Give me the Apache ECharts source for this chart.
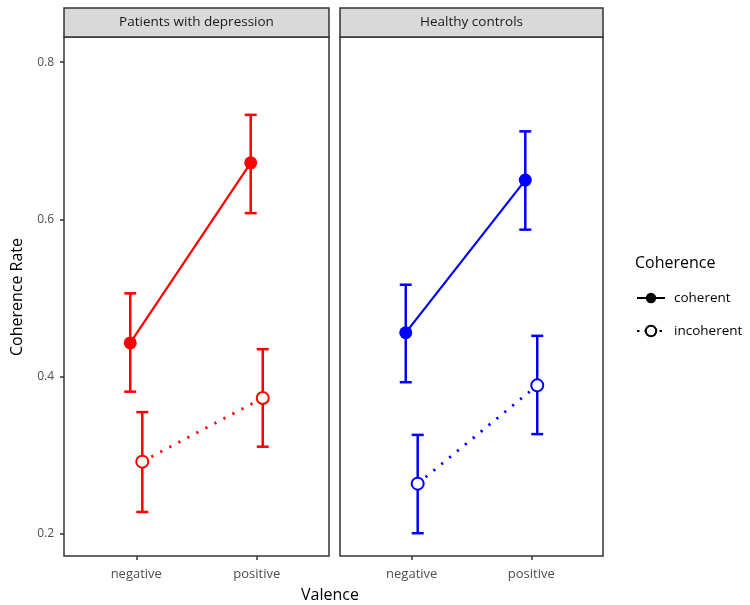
<!DOCTYPE html>
<html><head><meta charset="utf-8">
<script src="https://cdn.jsdelivr.net/npm/echarts@6/dist/echarts.min.js"></script>
<style>html,body{margin:0;padding:0;background:#fff}#c{width:750px;height:605px}</style>
</head><body><div id="c"></div>
<script>
var panels = ['Patients with depression', 'Healthy controls'];
var valence = ['negative', 'positive'];
var coherence = ['coherent', 'incoherent'];
var colors = ['#ff0000', '#0000ff'];
var yTicks = [0.2, 0.4, 0.6, 0.8];
// [panel][coherence][valence]
var means = [
  [[0.443, 0.672], [0.292, 0.373]],
  [[0.456, 0.650], [0.264, 0.389]]
];
var lower = [
  [[0.381, 0.608], [0.228, 0.311]],
  [[0.393, 0.587], [0.201, 0.327]]
];
var upper = [
  [[0.506, 0.733], [0.355, 0.435]],
  [[0.517, 0.712], [0.326, 0.452]]
];

var FONT = '"Open Sans"';
var dodge = [-0.05, 0.05];
var gridDefs = [{left: 64, top: 37, width: 265, height: 519}, {left: 340, top: 37, width: 263, height: 519}];

var grids = [], xAxes = [], yAxes = [], series = [], graphics = [];
gridDefs.forEach(function (g, p) {
  grids.push({left: g.left, top: g.top, width: g.width, height: g.height, show: true,
    borderColor: '#333333', borderWidth: 1.5, backgroundColor: '#fff', containLabel: false});
  xAxes.push({type: 'value', gridIndex: p, min: 0.4, max: 2.6,
    axisLine: {show: false}, splitLine: {show: false},
    axisTick: {show: true, customValues: [1, 2], length: 4, lineStyle: {color: '#333', width: 1.5}},
    axisLabel: {show: true, customValues: [1, 2], margin: 12, color: '#4d4d4d', fontFamily: FONT, fontSize: 13,
      formatter: function (v) { return valence[Math.round(v) - 1]; }}
  });
  yAxes.push({type: 'value', gridIndex: p, min: 0.172, max: 0.832,
    axisLine: {show: false}, splitLine: {show: false},
    axisTick: {show: p === 0, customValues: yTicks, length: 4, lineStyle: {color: '#333', width: 1.5}},
    axisLabel: {show: p === 0, customValues: yTicks, margin: 10, color: '#4d4d4d', fontFamily: FONT, fontSize: 12,
      formatter: function (v) { return v.toFixed(1); }}
  });
  // strip
  graphics.push({type: 'rect', shape: {x: g.left, y: 8, width: g.width, height: 29},
    style: {fill: '#d9d9d9', stroke: '#333333', lineWidth: 1.5}, z: 10});
  graphics.push({type: 'text', x: g.left + g.width / 2, y: 22.5,
    style: {text: panels[p], fill: '#1a1a1a', font: '13.5px ' + FONT, textAlign: 'center', textVerticalAlign: 'middle'}, z: 11});

  coherence.forEach(function (coh, c) {
    var pts = valence.map(function (v, i) { return [i + 1 + dodge[c], means[p][c][i]]; });
    var bars = valence.map(function (v, i) { return [i + 1 + dodge[c], lower[p][c][i], upper[p][c][i]]; });
    series.push({
      type: 'custom', xAxisIndex: p, yAxisIndex: p, z: 2, silent: true,
      data: bars,
      renderItem: (function (col) {
        return function (params, api) {
          var x = api.value(0);
          var lo = api.coord([x, api.value(1)]);
          var hi = api.coord([x, api.value(2)]);
          var hw = 6;
          var st = {stroke: col, lineWidth: 2.5, fill: null};
          return {type: 'group', children: [
            {type: 'line', shape: {x1: lo[0], y1: lo[1], x2: hi[0], y2: hi[1]}, style: st},
            {type: 'line', shape: {x1: lo[0] - hw, y1: lo[1], x2: lo[0] + hw, y2: lo[1]}, style: st},
            {type: 'line', shape: {x1: hi[0] - hw, y1: hi[1], x2: hi[0] + hw, y2: hi[1]}, style: st}
          ]};
        };
      })(colors[p])
    });
    series.push({
      type: 'line', xAxisIndex: p, yAxisIndex: p, z: 3, silent: true,
      data: pts,
      symbol: c === 0 ? 'circle' : 'emptyCircle',
      symbolSize: c === 0 ? 13 : 12,
      itemStyle: {color: colors[p], borderColor: colors[p], borderWidth: c === 0 ? 0 : 2},
      lineStyle: {color: colors[p], width: c === 0 ? 2.2 : 2.8, type: c === 0 ? 'solid' : [2.2, 8], cap: 'butt'},
      animation: false
    });
  });
});

// legend-only series
coherence.forEach(function (coh, c) {
  series.push({
    name: coh, type: 'line', xAxisIndex: 0, yAxisIndex: 0, data: [],
    symbol: c === 0 ? 'circle' : 'emptyCircle', symbolSize: 12,
    itemStyle: {color: '#000', borderColor: '#000', borderWidth: c === 0 ? 0 : 2},
    lineStyle: {color: '#000', width: c === 0 ? 2.4 : 2.8, type: c === 0 ? 'solid' : [2.5, 5]}
  });
});

var option = {
  animation: false,
  backgroundColor: '#ffffff',
  grid: grids, xAxis: xAxes, yAxis: yAxes, series: series,
  graphic: graphics.concat([
    {type: 'text', x: 330, y: 595, style: {text: 'Valence', fill: '#000', font: '16px ' + FONT, textAlign: 'center', textVerticalAlign: 'middle'}},
    {type: 'text', x: 17, y: 297, rotation: Math.PI / 2, style: {text: 'Coherence Rate', fill: '#000', font: '16px ' + FONT, textAlign: 'center', textVerticalAlign: 'middle'}},
    {type: 'text', x: 635, y: 263, style: {text: 'Coherence', fill: '#000', font: '16px ' + FONT, textAlign: 'left', textVerticalAlign: 'middle'}}
  ]),
  legend: {
    orient: 'vertical', left: 636, top: 291, padding: 0, itemWidth: 28, itemHeight: 13, itemGap: 19,
    data: coherence, selectedMode: false,
    textStyle: {color: '#000', fontFamily: FONT, fontSize: 13.5, padding: [0, 0, 0, 4]}
  }
};
var chart = echarts.init(document.getElementById('c'), null, {renderer: 'canvas'});
chart.setOption(option);
</script></body></html>
